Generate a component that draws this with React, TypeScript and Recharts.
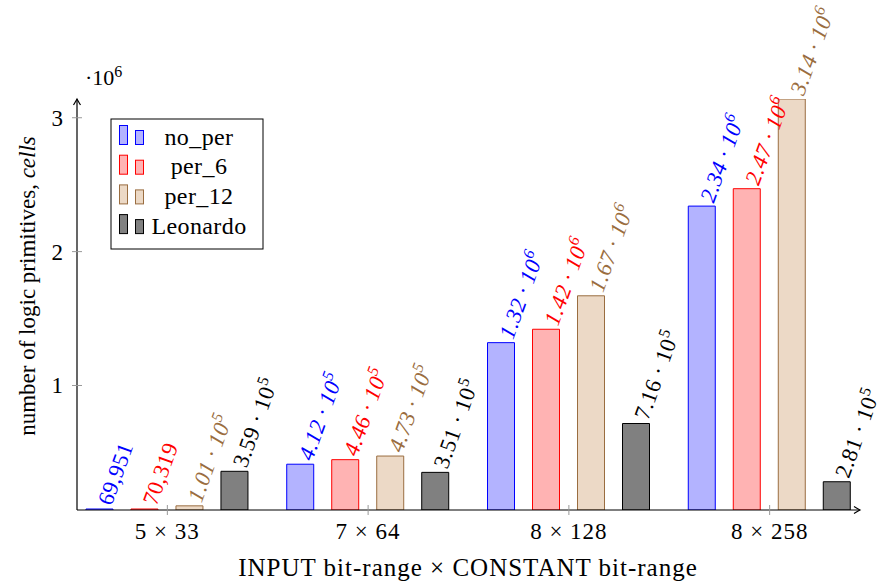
import { Bar, BarChart, LabelList, XAxis, YAxis } from "recharts";

// values in millions of cells
const categories = ["5 × 33", "7 × 64", "8 × 128", "8 × 258"];
const noPer = [0.069951, 0.412, 1.32, 2.34];
const per6 = [0.070319, 0.446, 1.42, 2.47];
const per12 = [0.101, 0.473, 1.67, 3.14];
const leonardo = [0.359, 0.351, 0.716, 0.281];
const yTicks = [1, 2, 3];

const series = [
  { key: "no_per", values: noPer, fill: "#b3b3ff", stroke: "#0000ff", italic: true },
  { key: "per_6", values: per6, fill: "#ffb3b3", stroke: "#ff0000", italic: true },
  { key: "per_12", values: per12, fill: "#ecd9c6", stroke: "#9a6d40", italic: true },
  { key: "Leonardo", values: leonardo, fill: "#808080", stroke: "#000000", italic: false }
];

const data = categories.map((label, idx) => {
  const row: Record<string, number | string> = { idx, label };
  series.forEach((s) => (row[s.key] = s.values[idx]));
  return row;
});

const FONT = "Liberation Serif, DejaVu Serif, serif";
const domainMin = Math.min(...series.flatMap((s) => s.values));
const domainMax = Math.max(...series.flatMap((s) => s.values));

function formatCells(v: number) {
  const n = Math.round(v * 1e6);
  if (n < 1e5) return { mant: n.toLocaleString("en-US"), exp: null as number | null };
  const e = Math.floor(Math.log10(n));
  return { mant: (n / 10 ** e).toFixed(2), exp: e };
}

function makeLabel(color: string, italic: boolean) {
  return (props: any) => {
    const { x, y, width, value } = props;
    const { mant, exp } = formatCells(Number(value));
    const px = Number(x) + Number(width) / 2 + 5;
    const py = Number(y) - 5;
    return (
      <text
        x={px}
        y={py}
        transform={`rotate(-70 ${px} ${py})`}
        fill={color}
        style={{ fontFamily: FONT, letterSpacing: 0.4 }}
        fontSize={22.5}
        fontStyle={italic && exp !== null ? "italic" : "normal"}
        dominantBaseline="central"
      >
        {exp === null ? mant : `${mant} · 10`}
        {exp !== null && (
          <tspan dy={-8} fontSize={16}>
            {exp}
          </tspan>
        )}
      </text>
    );
  };
}

function XTick({ x, y, payload }: any) {
  return (
    <g>
      <line x1={x} x2={x} y1={y - 5} y2={y + 5} stroke="#999" strokeWidth={1} />
      <text x={x} y={y + 29} textAnchor="middle" style={{ fontFamily: FONT, letterSpacing: 1 }} fontSize={23} fill="#000">
        {categories[payload.value]}
      </text>
    </g>
  );
}

function YTick({ x, y, payload }: any) {
  return (
    <g>
      <line x1={x - 5} x2={x + 5} y1={y} y2={y} stroke="#999" strokeWidth={1} />
      <text x={x - 14} y={y + 8} textAnchor="end" style={{ fontFamily: FONT }} fontSize={23} fill="#000">
        {payload.value}
      </text>
    </g>
  );
}

function LegendBox() {
  return (
    <svg width={154} height={132} style={{ position: "absolute", left: 110, top: 118 }}>
      <rect x={1} y={1} width={152} height={130} fill="#fff" stroke="#000" strokeWidth={1} />
      {series.map((s, i) => {
        const cy = 19.5 + i * 29.7;
        return (
          <g key={s.key}>
            <rect x={9.5} y={cy - 12} width={8} height={19} fill={s.fill} stroke={s.stroke} />
            <rect x={25.5} y={cy - 7} width={8} height={14} fill={s.fill} stroke={s.stroke} />
            <text x={89} y={cy + 7} textAnchor="middle" style={{ fontFamily: FONT, letterSpacing: 0.4 }} fontSize={24} fill="#000">
              {s.key}
            </text>
          </g>
        );
      })}
    </svg>
  );
}

export default function App() {
  return (
    <div style={{ position: "absolute", left: 0, top: 0, width: 881, height: 585, background: "#fff" }}>
      <BarChart
        width={881}
        height={585}
        data={data}
        margin={{ top: 99, right: 21, bottom: 0, left: 0 }}
        barSize={27}
        barGap={18}
      >
        <defs>
          <marker id="arrowHead" viewBox="-8 -5 10 10" refX={0} refY={0} markerWidth={10} markerHeight={10} markerUnits="userSpaceOnUse" orient="auto-start-reverse">
            <path d="M-6,-3.5 Q-1.5,-0.8 0,0 Q-1.5,0.8 -6,3.5" fill="none" stroke="#000" strokeWidth={1.2} />
          </marker>
        </defs>
        <XAxis
          type="number"
          dataKey="idx"
          domain={[-0.45, 3.45]}
          ticks={[0, 1, 2, 3]}
          height={75}
          tickSize={0}
          tickMargin={0}
          tick={<XTick />}
          axisLine={{ stroke: "#000", strokeWidth: 1.2, markerEnd: "url(#arrowHead)" }}
          tickLine={false}
          allowDataOverflow
        />
        <YAxis
          type="number"
          domain={[domainMin, domainMax]}
          ticks={yTicks}
          width={77}
          tickSize={0}
          tickMargin={0}
          tick={<YTick />}
          axisLine={{ stroke: "#000", strokeWidth: 1.2, markerStart: "url(#arrowHead)" }}
          tickLine={false}
          allowDataOverflow
        />
        {series.map((s) => (
          <Bar
            key={s.key}
            dataKey={s.key}
            fill={s.fill}
            stroke={s.stroke}
            strokeWidth={1}
            minPointSize={1}
            isAnimationActive={false}
          >
            <LabelList dataKey={s.key} content={makeLabel(s.stroke, s.italic)} />
          </Bar>
        ))}
        <text x={85} y={85} style={{ fontFamily: FONT }} fontSize={22} fill="#000">
          ·10<tspan dy={-8} fontSize={16}>6</tspan>
        </text>
        <text
          x={27}
          y={286}
          transform="rotate(-90 27 286)"
          textAnchor="middle"
          dominantBaseline="central"
          style={{ fontFamily: FONT }}
          fontSize={23}
          fill="#000"
        >
          number of logic primitives, <tspan fontStyle="italic">cells</tspan>
        </text>
        <text x={468} y={576} textAnchor="middle" style={{ fontFamily: FONT, letterSpacing: 1 }} fontSize={25} fill="#000">
          INPUT bit-range × CONSTANT bit-range
        </text>
      </BarChart>
      <LegendBox />
    </div>
  );
}
